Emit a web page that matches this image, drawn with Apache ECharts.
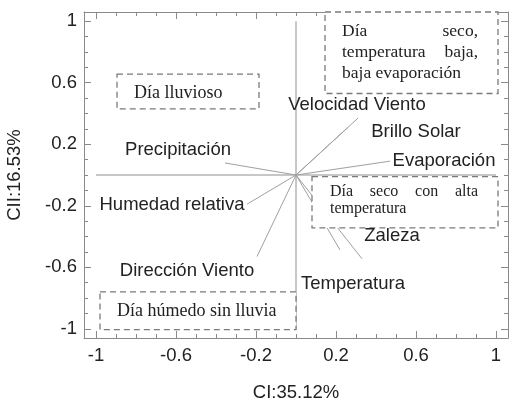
<!DOCTYPE html>
<html><head><meta charset="utf-8">
<script src="https://cdn.jsdelivr.net/npm/echarts@6/dist/echarts.min.js"></script>
<style>html,body{margin:0;padding:0;background:#fff}#c{width:509px;height:402px}</style>
</head><body><div id="c"></div>
<script>
// ---- data ----
const variables = ['Velocidad Viento','Brillo Solar','Evaporación','Precipitación','Humedad relativa','Dirección Viento','Zaleza','Temperatura'];
const ci  = [0.31, 0.26, 0.47, -0.355, -0.245, -0.195, 0.33, 0.22];
const cii = [0.37, 0.31, 0.09, 0.078, -0.19, -0.53, -0.545, -0.487];
const xTickLabels = [-1, -0.6, -0.2, 0.2, 0.6, 1];
const yTickLabels = [1, 0.6, 0.2, -0.2, -0.6, -1];
const minorTicks = [-1,-0.9,-0.8,-0.7,-0.6,-0.5,-0.4,-0.3,-0.2,-0.1,0,0.1,0.2,0.3,0.4,0.5,0.6,0.7,0.8,0.9,1];
const xName = 'CI:35.12%';
const yName = 'CII:16.53%';
const refAxes = [[-1, 0, 1, 0], [0, -1, 0, 1]];

// ---- annotation layout (pixel offsets for labels) ----
const labelOffsets = [[-1,-13],[68,5],[54,0],[-47,-13],[-75,1],[-70,14],[30,-23],[13,34]];
const boxes = [
  {lines:['Día lluvioso'], x0:-0.895, x1:-0.185, y0:0.656, y1:0.43, padL:17, padR:17, top:19, lineH:21, size:18, justify:false},
  {lines:['Día seco,','temperatura baja,','baja evaporación'], x0:0.145, x1:1.01, y0:1.06, y1:0.53, padL:17, padR:20, top:19, lineH:21, size:17.5, justify:true},
  {lines:['Día seco con alta','temperatura'], x0:0.08, x1:1.01, y0:-0.01, y1:-0.344, padL:18, padR:20, top:15, lineH:17, size:16, justify:true},
  {lines:['Día húmedo sin lluvia'], x0:-0.98, x1:0.0, y0:-0.76, y1:-1.006, padL:17, padR:17, top:19, lineH:21, size:18, justify:false}
];

const SANS = '"Liberation Sans", Arial, sans-serif';
const SERIF = '"Liberation Serif", "Times New Roman", serif';
const FS = 18.5;
const frameColor = '#8a8a8a';
const textColor = '#222';

const mctx = document.createElement('canvas').getContext('2d');
function measure(t, font){ mctx.font = font; return mctx.measureText(t).width; }

function axisSet(dim, pos, withLabels){
  const base = {
    type:'value', gridIndex:0, position:pos,
    min:-1.06, max:1.06,
    splitLine:{show:false},
    axisLine:{show:true, onZero:false, lineStyle:{color:frameColor, width:1}},
  };
  const major = Object.assign({}, base, {
    axisTick:{show:true, inside:true, length:7, customValues: dim==='x'?xTickLabels:yTickLabels, lineStyle:{color:frameColor}},
    axisLabel: withLabels ? {show:true, customValues: dim==='x'?xTickLabels:yTickLabels, color:textColor, fontSize:FS, fontFamily:SANS, margin: dim==='x'?8:7} : {show:false}
  });
  const minor = Object.assign({}, base, {
    axisLine:{show:false, onZero:false},
    axisTick:{show:true, inside:true, length:4, customValues:minorTicks, lineStyle:{color:frameColor}},
    axisLabel:{show:false}
  });
  if (withLabels) {
    major.name = dim==='x'?xName:yName;
    major.nameLocation = 'middle';
    major.nameGap = dim==='x'?45:60;
    major.nameTextStyle = {color:textColor, fontSize:FS, fontFamily:SANS};
  }
  return [major, minor];
}

const xAxes = [...axisSet('x','bottom',true), ...axisSet('x','top',false)];
const yAxes = [...axisSet('y','left',true), ...axisSet('y','right',false)];

const chart = echarts.init(document.getElementById('c'), null, {renderer:'canvas'});
chart.setOption({
  animation:false,
  backgroundColor:'#fff',
  grid:{left:84, right:1, top:12, bottom:64, containLabel:false, outerBoundsMode:'none'},
  xAxis:xAxes,
  yAxis:yAxes,
  series:[
    { // reference axes
      type:'custom', coordinateSystem:'cartesian2d', xAxisIndex:0, yAxisIndex:0, z:1,
      data: refAxes,
      renderItem:(p, api)=>{
        const a = api.coord([api.value(0), api.value(1)]);
        const b = api.coord([api.value(2), api.value(3)]);
        return {type:'line', shape:{x1:a[0],y1:a[1],x2:b[0],y2:b[1]}, style:{stroke:'#8f8f8f', lineWidth:1}};
      }
    },
    { // vectors
      type:'custom', coordinateSystem:'cartesian2d', xAxisIndex:0, yAxisIndex:0, z:2,
      data: variables.map((n,i)=>[ci[i], cii[i], i]),
      renderItem:(p, api)=>{
        const a = api.coord([0,0]);
        const b = api.coord([api.value(0), api.value(1)]);
        return {type:'line', shape:{x1:a[0],y1:a[1],x2:b[0],y2:b[1]}, style:{stroke:'#a0a0a0', lineWidth:1}};
      }
    },
    { // boxes
      type:'custom', coordinateSystem:'cartesian2d', xAxisIndex:0, yAxisIndex:0, z:3,
      data: boxes.map((b,i)=>[b.x0, b.y0, i]),
      renderItem:(p, api)=>{
        const bx = boxes[api.value(2)];
        const a = api.coord([bx.x0, bx.y0]);
        const b = api.coord([bx.x1, bx.y1]);
        const children = [{type:'rect', shape:{x:a[0], y:a[1], width:b[0]-a[0], height:b[1]-a[1]},
          style:{fill:'#fff', stroke:'#7a7a7a', lineWidth:1.3, lineDash:[6,4]}}];
        const font = bx.size + 'px ' + SERIF;
        const left = a[0] + bx.padL, right = b[0] - bx.padR;
        bx.lines.forEach((ln, k)=>{
          const y = a[1] + bx.top + k*bx.lineH;
          const words = ln.split(' ');
          const isLast = k === bx.lines.length-1 && bx.lines.length > 2;
          if (bx.justify && words.length > 1 && !isLast) {
            const ws = words.map(w=>measure(w, font));
            const tot = ws.reduce((s,v)=>s+v,0);
            const gap = (right-left-tot)/(words.length-1);
            let x = left;
            words.forEach((w, j)=>{
              children.push({type:'text', style:{text:w, x:x, y:y, align:'left', verticalAlign:'middle', font:font, fill:textColor}});
              x += ws[j] + gap;
            });
          } else {
            children.push({type:'text', style:{text:ln, x:left, y:y, align:'left', verticalAlign:'middle', font:font, fill:textColor}});
          }
        });
        return {type:'group', children};
      }
    },
    { // labels
      type:'custom', coordinateSystem:'cartesian2d', xAxisIndex:0, yAxisIndex:0, z:4,
      data: variables.map((n,i)=>[ci[i], cii[i], i]),
      renderItem:(p, api)=>{
        const i = api.value(2);
        const b = api.coord([api.value(0), api.value(1)]);
        const o = labelOffsets[i];
        return {type:'text', style:{text:variables[i], x:b[0]+o[0], y:b[1]+o[1], align:'center', verticalAlign:'middle', font:FS + 'px ' + SANS, fill:textColor}};
      }
    }
  ]
});
</script>
</body></html>
